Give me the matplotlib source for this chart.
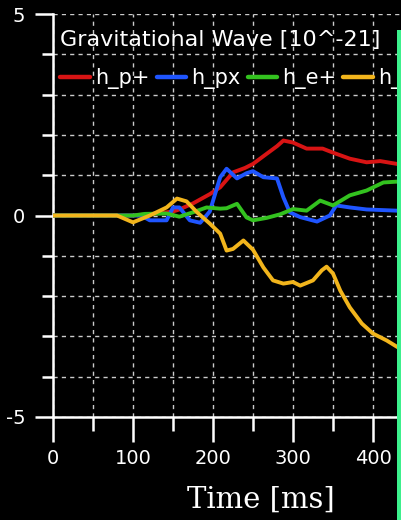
import matplotlib
matplotlib.use("Agg")
import matplotlib.pyplot as plt
from matplotlib.patches import Rectangle
from matplotlib.ticker import MultipleLocator, FixedLocator

plt.rcParams["axes.unicode_minus"] = False

# strain components, units of 1e-21, time in ms
t_hp_plus = [0, 100, 130, 150, 158, 175, 196, 209, 225, 240, 250, 267, 280,
             288, 300, 317, 337, 350, 371, 392, 409, 430]
hp_plus = [0, 0, 0.05, 0.1, 0.15, 0.3, 0.53, 0.7, 1.07, 1.18, 1.28, 1.53, 1.72,
           1.86, 1.81, 1.66, 1.66, 1.56, 1.41, 1.32, 1.35, 1.28]

t_hp_cross = [0, 110, 121, 142, 150, 158, 171, 184, 196, 209, 217, 230, 242,
              250, 263, 280, 288, 296, 309, 330, 346, 354, 371, 392, 430]
hp_cross = [0, 0, -0.12, -0.12, 0.2, 0.2, -0.12, -0.18, 0.1, 0.95, 1.16, 0.92,
            1.05, 1.1, 0.95, 0.92, 0.45, 0.08, -0.04, -0.15, 0.0, 0.25, 0.2,
            0.15, 0.12]

t_he_plus = [0, 100, 115, 142, 158, 175, 192, 209, 217, 230, 242, 250, 267,
             284, 300, 317, 334, 350, 371, 392, 413, 430]
he_plus = [0, 0, 0.04, 0.05, -0.03, 0.08, 0.2, 0.17, 0.18, 0.29, -0.05, -0.12,
           -0.06, 0.03, 0.16, 0.12, 0.37, 0.25, 0.5, 0.62, 0.82, 0.84]

t_he_cross = [0, 80, 100, 121, 142, 155, 167, 180, 196, 209, 217, 225, 238,
              250, 263, 275, 288, 300, 309, 325, 336, 342, 350, 359, 371, 386,
              400, 417, 431]
he_cross = [0, 0, -0.17, 0.0, 0.2, 0.42, 0.35, 0.08, -0.2, -0.45, -0.87, -0.83,
            -0.62, -0.85, -1.29, -1.61, -1.69, -1.65, -1.74, -1.61, -1.36,
            -1.27, -1.44, -1.86, -2.28, -2.68, -2.93, -3.1, -3.27]

labels = ["h_p+", "h_px", "h_e+", "h_ex"]
colors = ["#d81414", "#1f55ff", "#33c21f", "#f2b51c"]
x_ticks = [0, 100, 200, 300, 400]

W, H = 401, 520
fig = plt.figure(figsize=(W / 100, H / 100), dpi=100, facecolor="black")
x0, y_top, y_bot = 53, 14, 417
ax = fig.add_axes([x0 / W, (H - y_bot) / H, 416 / W, (y_bot - y_top) / H])
ax.set_facecolor("black")

series = [(t_hp_plus, hp_plus), (t_hp_cross, hp_cross),
          (t_he_plus, he_plus), (t_he_cross, he_cross)]
for (t, h), lab, c in zip(series, labels, colors):
    ax.plot(t, h, color=c, lw=2.8, label=lab, solid_joinstyle="round",
            solid_capstyle="round", zorder=3)

ax.set_xlim(0, 520)
ax.set_ylim(-5, 5)
ax.xaxis.set_major_locator(FixedLocator(x_ticks))
ax.xaxis.set_minor_locator(MultipleLocator(50))
ax.yaxis.set_major_locator(MultipleLocator(5))
ax.yaxis.set_minor_locator(MultipleLocator(1))
ax.grid(which="both", color="white", lw=1.0, ls=(0, (3, 3)), alpha=0.8,
        zorder=1)
ax.set_axisbelow(True)

for side in ("top", "right"):
    ax.spines[side].set_visible(False)
for side in ("left", "bottom"):
    ax.spines[side].set_color("white")
    ax.spines[side].set_linewidth(1.8)

ax.tick_params(which="major", length=13, width=1.8, color="white",
               labelcolor="white", labelsize=14, pad=7)
ax.tick_params(which="minor", length=8, width=1.8, color="white")
ax.tick_params(axis="x", which="major", length=18, pad=5)
ax.tick_params(axis="x", which="minor", length=10)

ax.set_xlabel("Time [ms]", family="DejaVu Serif", fontsize=21, color="white")
ax.xaxis.set_label_coords((261 - x0) / 416, -0.17)

leg = ax.legend(ncol=4, loc="upper left", bbox_to_anchor=(0.018, 0.96),
                frameon=False, title="Gravitational Wave [10^-21]",
                title_fontsize=16, fontsize=15, handlelength=1.4,
                handletextpad=0.25, columnspacing=0.35, borderaxespad=0,
                borderpad=0, alignment="left", labelspacing=0.85)
leg.get_title().set_color("white")
for txt in leg.get_texts():
    txt.set_color("white")
for ln in leg.get_lines():
    ln.set_linewidth(3.2)

# bright edge strip down the right side
fig.add_artist(Rectangle((397 / W, 0), 4 / W, (H - 30) / H,
                         transform=fig.transFigure, color="#3cf08c", lw=0))

fig.savefig("out.png", dpi=100, facecolor="black")
